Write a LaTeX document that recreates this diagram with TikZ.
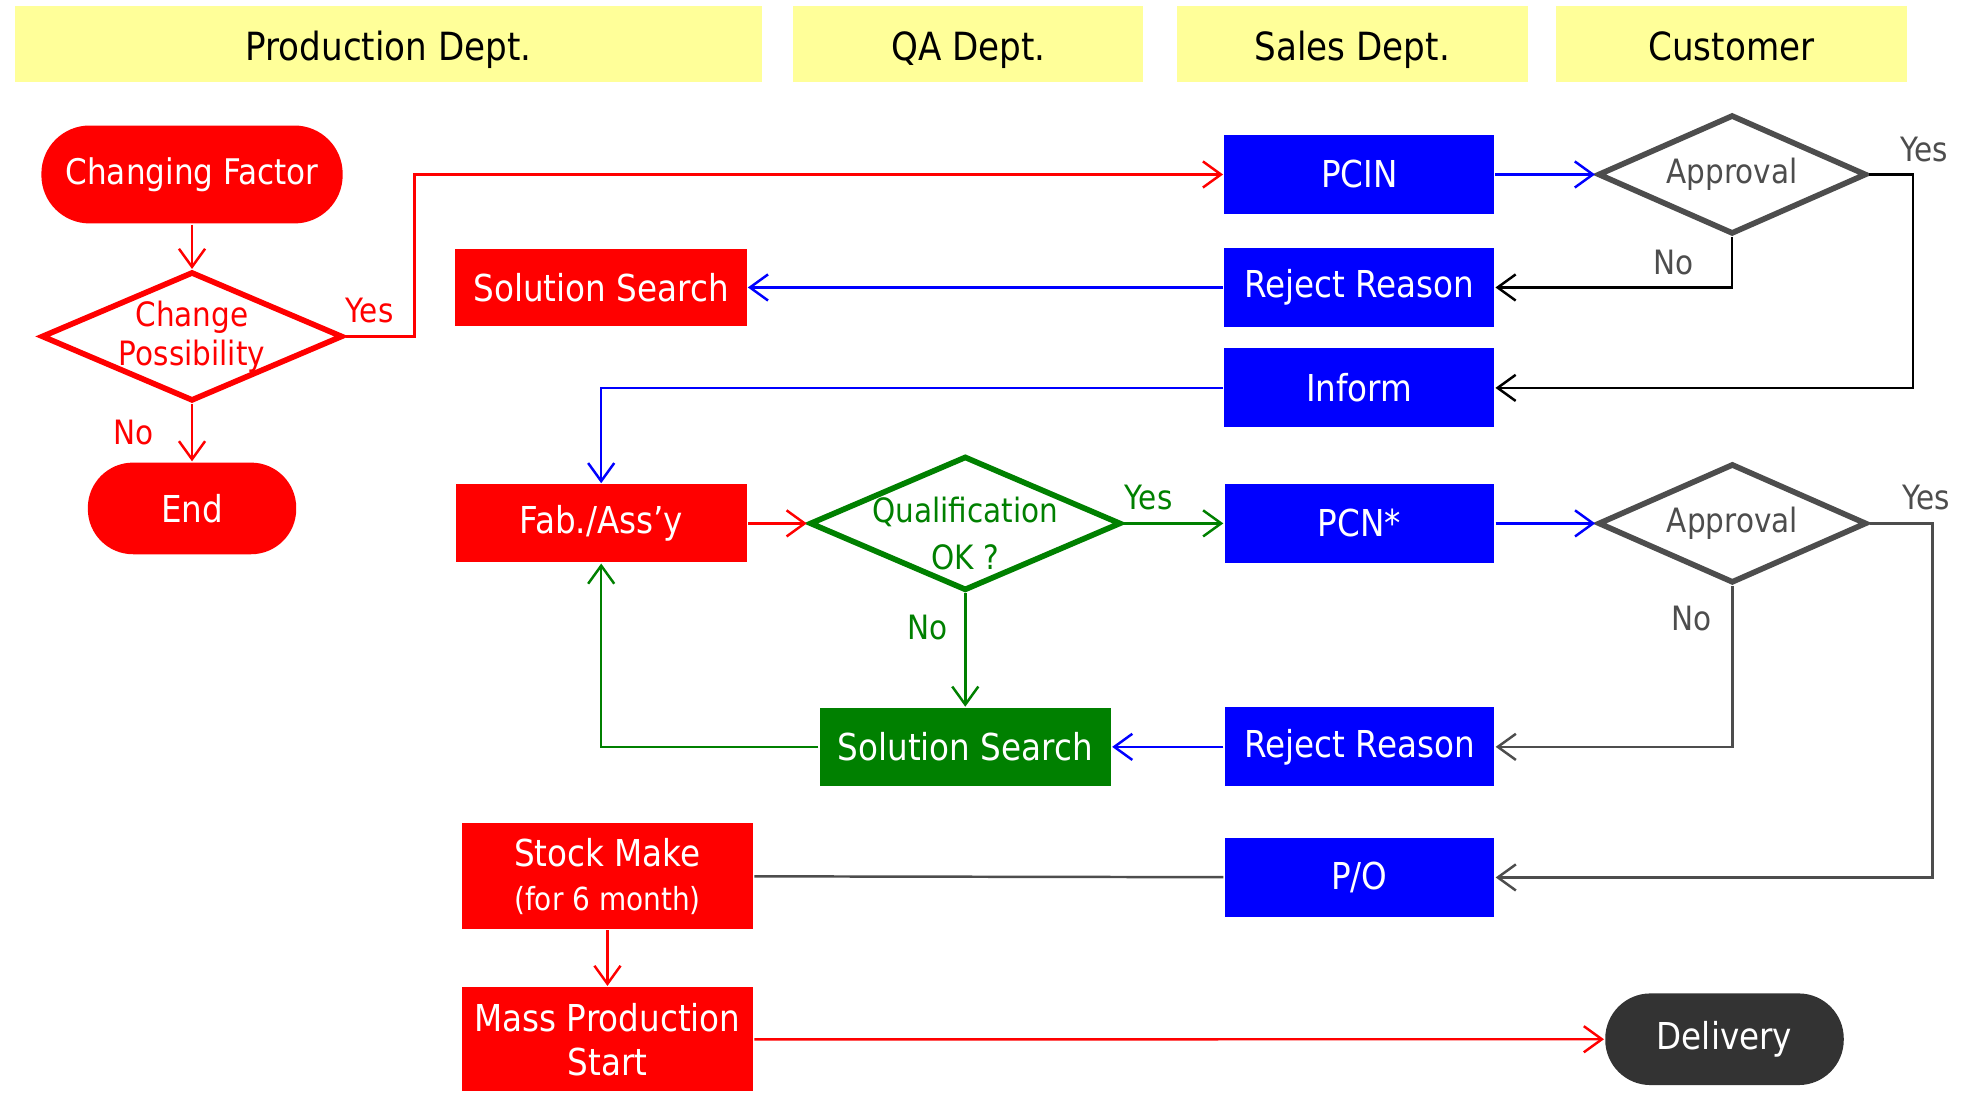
\documentclass[tikz,border=0pt]{standalone}
\usepackage{fontspec}
\setmainfont{DejaVu Sans}[FakeStretch=0.88]
\usetikzlibrary{shapes.geometric,arrows.meta}

\definecolor{lane}{HTML}{FFFF99}
\definecolor{okgreen}{HTML}{008000}
\definecolor{custgray}{HTML}{4D4D4D}
\definecolor{darkfill}{HTML}{333333}

\begin{document}
\begin{tikzpicture}[x=0.0125cm,y=-0.0125cm,line width=0.7pt,>={Straight Barb[length=1.8mm,width=2.6mm]},
	head/.style={fill=lane,minimum width=3.4875cm,minimum height=0.75cm,text height=12pt,text depth=2.5pt,font=\fontsize{11}{13}\selectfont},
	box/.style={fill=red,text=white,minimum width=2.9cm,minimum height=0.775cm,align=center,inner sep=1pt,font=\fontsize{10.5}{12.5}\selectfont},
	bluebox/.style={box,fill=blue,minimum width=2.6875cm,minimum height=0.7875cm},
	pill/.style={box,minimum height=0.9125cm,rounded corners=4.5mm},
	choice/.style={diamond,draw,fill=white,line width=1.6pt,inner sep=0pt,align=center,font=\fontsize{9.5}{11}\selectfont},
	approval/.style={choice,draw=custgray,text=custgray,minimum width=2.675cm,minimum height=1.1875cm,shape aspect=2.25},
	yn/.style={font=\fontsize{9.5}{11}\selectfont}]

	\useasboundingbox (0,0) rectangle (1568,871);

	% lanes
	\node[head,minimum width=7.4375cm] (prod) at (309.5,35) {Production Dept.};
	\node[head] (qa) at (771.5,35) {QA Dept.};
	\node[head] (sales) at (1077.5,35) {Sales Dept.};
	\node[head] (cust) at (1379.5,35) {Customer};

	% production side, first check
	\node[pill,minimum width=3cm,minimum height=0.975cm,rounded corners=4.8mm,font=\fontsize{10}{12}\selectfont] (factor) at (153,139) {Changing Factor};
	\node[choice,draw=red,text=red,minimum width=3cm,minimum height=1.2875cm,shape aspect=2.33,inner sep=-5pt] (possible) [below of=factor, node distance=1.6125cm] {Change\\Possibility};
	\node[pill,minimum width=2.075cm] (end) [below of=possible, node distance=1.7125cm] {End};
	\draw[->,red] (factor) -- (possible);
	\draw[->,red] (possible) -- node[yn,text=red,left=0.25cm] {No} (end);

	% PCIN round
	\node[bluebox] (pcin) at (1083,139) {PCIN};
	\node[approval] (approve1) [right of=pcin, node distance=3.7125cm] {Approval};
	\node[bluebox] (reject1) [below of=pcin, node distance=1.125cm] {Reject Reason};
	\node[bluebox] (inform) [below of=reject1, node distance=1cm] {Inform};
	\node[box] (search1) [left of=reject1, node distance=7.55cm] {Solution Search};
	\draw[->,red] (possible.east) -- node[yn,text=red,above,pos=0.35] {Yes} ++(55,0) |- (pcin);
	\draw[->,blue] (pcin) -- (approve1);
	\draw[->] (approve1.south) |- node[yn,text=custgray,pos=0.25,left=0.25cm] {No} (reject1);
	\draw[->] (approve1.east) -- ++(35,0) node[yn,text=custgray,above,xshift=1.1mm] {Yes} |- (inform);
	\draw[->,blue] (reject1) -- (search1);

	% PCN round
	\node[box] (fab) at (479,417) {Fab./Ass’y};
	\node[choice,draw=okgreen,minimum width=3.1cm,minimum height=1.3375cm,shape aspect=2.32,
		label={[text=okgreen,align=center,yshift=-0.1cm,font=\fontsize{9.5}{13.5}\selectfont]center:Qualification\\OK ?}] (qualify) [right of=fab, node distance=3.625cm] {};
	\node[bluebox] (pcn) [right of=qualify, node distance=3.925cm] {PCN*};
	\node[approval] (approve2) [right of=pcn, node distance=3.7125cm] {Approval};
	\node[bluebox] (reject2) [below of=pcn, node distance=2.225cm] {Reject Reason};
	\node[box,fill=okgreen] (search2) [left of=reject2, node distance=3.925cm] {Solution Search};
	\node[bluebox] (po) [below of=reject2, node distance=1.3cm] {P/O};
	\draw[->,blue] (inform) -| (fab);
	\draw[->,red] (fab) -- (qualify);
	\draw[->,okgreen] (qualify) -- node[yn,text=okgreen,above,pos=0.25] {Yes} (pcn);
	\draw[->,okgreen] (qualify) -- node[yn,text=okgreen,left=0.05cm,pos=0.3] {No} (search2);
	\draw[->,blue] (pcn) -- (approve2);
	\draw[->,custgray] (approve2.south) |- node[yn,text=custgray,pos=0.1,left=0.08cm] {No} (reject2);
	\draw[->,custgray] (approve2.east) -- ++(50,0) node[yn,text=custgray,above,xshift=-0.6mm] {Yes} |- (po);
	\draw[->,blue] (reject2) -- (search2);
	\draw[->,okgreen] (search2) -| (fab);

	% mass production
	\node[box,minimum height=1.05cm] (stock) at (484,698) {Stock Make\\{\fontsize{9}{11}\selectfont (for 6 month)}};
	\node[box,minimum height=1.0375cm] (mass) [below of=stock, node distance=1.625cm] {Mass Production\\Start};
	\node[pill,fill=darkfill,minimum width=2.375cm] (delivery) at (1374,828) {Delivery};
	\draw[custgray] (po) -- (stock);
	\draw[->,red] (stock) -- (mass);
	\draw[->,red] (mass) -- (delivery);

\end{tikzpicture}
\end{document}
